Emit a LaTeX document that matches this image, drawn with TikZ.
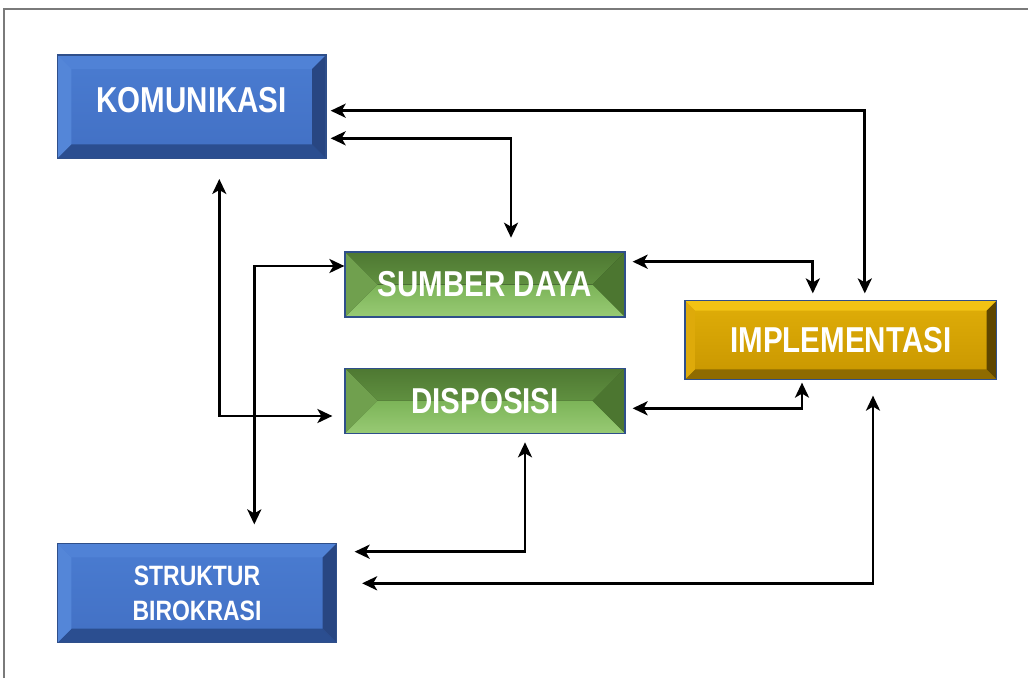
\documentclass[tikz,border=0pt]{standalone}
\usepackage{fontspec}
\newfontfamily\boxfont{Liberation Sans}[FakeStretch=0.82]
\usetikzlibrary{arrows.meta}
\definecolor{boxline}{HTML}{2F4F8A}
\definecolor{framecol}{HTML}{7A7A7A}
\tikzset{
	every path/.style={thick},
	% bevelled face: face, top, bottom, left, right, bevel width
	bevel/.style n args={6}{path picture={
		\path (path picture bounding box.south west) coordinate (p-sw)
			(path picture bounding box.north east) coordinate (p-ne)
			(path picture bounding box.north west) coordinate (p-nw)
			(path picture bounding box.south east) coordinate (p-se);
		\fill[#1] (p-sw) rectangle (p-ne);
		\fill[#2] (p-nw) -- (p-ne) -- ([shift={(-#6,-#6)}]p-ne) -- ([shift={(#6,-#6)}]p-nw) -- cycle;
		\fill[#3] (p-sw) -- (p-se) -- ([shift={(-#6,#6)}]p-se) -- ([shift={(#6,#6)}]p-sw) -- cycle;
		\fill[#4] (p-sw) -- (p-nw) -- ([shift={(#6,-#6)}]p-nw) -- ([shift={(#6,#6)}]p-sw) -- cycle;
		\fill[#5] (p-se) -- (p-ne) -- ([shift={(-#6,-#6)}]p-ne) -- ([shift={(-#6,#6)}]p-se) -- cycle;
	}},
	box/.style={rectangle, draw=boxline, line width=1.2pt, text=white, inner sep=0pt, align=center,
		font=\boxfont\bfseries\fontsize{36}{40}\selectfont},
	bluebox/.style={box, bevel={top color={rgb,255:red,74;green,124;blue,209}, bottom color={rgb,255:red,66;green,112;blue,196}}
		{fill={rgb,255:red,80;green,130;blue,214}}{fill={rgb,255:red,43;green,78;blue,144}}
		{fill={rgb,255:red,84;green,134;blue,216}}{fill={rgb,255:red,40;green,70;blue,130}}{14pt}},
	greenbox/.style={box, minimum width=280pt, minimum height=65pt,
		bevel={fill={rgb,255:red,100;green,150;blue,70}}
		{top color={rgb,255:red,78;green,120;blue,50}, bottom color={rgb,255:red,96;green,144;blue,64}}
		{top color={rgb,255:red,124;green,180;blue,88}, bottom color={rgb,255:red,152;green,202;blue,116}}
		{fill={rgb,255:red,112;green,160;blue,78}}{fill={rgb,255:red,76;green,118;blue,48}}{32.5pt}},
	goldbox/.style={box, minimum width=311.7pt, minimum height=78.6pt,
		bevel={top color={rgb,255:red,224;green,174;blue,8}, bottom color={rgb,255:red,200;green,150;blue,0}}
		{fill={rgb,255:red,242;green,195;blue,20}}{fill={rgb,255:red,143;green,107;blue,0}}
		{fill={rgb,255:red,222;green,170;blue,10}}{fill={rgb,255:red,94;green,70;blue,0}}{10pt}},
	link/.style={<->, >={Stealth[length=15pt,width=14pt,inset=4pt]}, line width=2.9pt, black},
}

\begin{document}
\begin{tikzpicture}[x=1pt,y=-1pt]
	\useasboundingbox (0,0) rectangle (1028,678);
	
	% frame.....................
	\draw [framecol, line width=1.5pt] (4,678) -- (4,9) -- (1028,9);
	
	% boxes.....................
	\node [bluebox, minimum width=268.7pt, minimum height=103.3pt] (kom) at (191.7,106.7) {\raisebox{13pt}{KOMUNIKASI}};
	\node [greenbox] (sdm) at (485,284.5) {SUMBER DAYA};
	\node [greenbox] (dis) at (485,400.8) {DISPOSISI};
	\node [goldbox] (imp) at (840.8,340) {IMPLEMENTASI};
	\node [bluebox, minimum width=279.4pt, minimum height=99.4pt,
		font=\boxfont\bfseries\fontsize{28}{35}\selectfont] (str) at (197,593) {STRUKTUR\\BIROKRASI};
	
	% links to KOMUNIKASI.......................
	\draw [link] ([xshift=4pt,yshift=-4pt]kom.east) -| ([xshift=24pt,yshift=6.7pt]imp.north);
	\draw [link] ([xshift=4pt,yshift=-31.6pt]kom.east) -| ([xshift=26pt,yshift=13.7pt]sdm.north);
	\draw [link] ([xshift=27.6pt,yshift=-20pt]kom.south) |- ([xshift=-12pt,yshift=-15.2pt]dis.west);
	
	% links to IMPLEMENTASI.......................
	\draw [link] ([xshift=7pt,yshift=22.8pt]sdm.east) -| ([xshift=-28pt,yshift=6.7pt]imp.north);
	\draw [link] ([xshift=7pt,yshift=-7.5pt]dis.east) -| ([xshift=-38.8pt,yshift=-2.7pt]imp.south);
	
	% links to STRUKTUR BIROKRASI.......................
	\draw [link] ([yshift=18.5pt]sdm.west) -| ([xshift=57.3pt,yshift=18.3pt]str.north);
	\draw [link] ([xshift=40pt,yshift=-8.4pt]dis.south) |- ([xshift=17.3pt,yshift=41.3pt]str.east);
	\draw [link] ([xshift=32.2pt,yshift=-15.7pt]imp.south) |- ([xshift=24.8pt,yshift=9.7pt]str.east);
\end{tikzpicture}
\end{document}
